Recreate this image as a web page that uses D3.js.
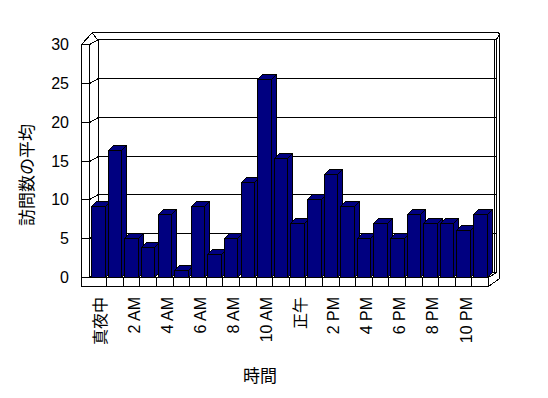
<!DOCTYPE html>
<html><head><meta charset="utf-8">
<script src="https://cdn.jsdelivr.net/npm/d3@7"></script>
<style>body{margin:0;background:#fff}svg{display:block}</style>
</head><body>
<script>
const categories = ["真夜中","1 AM","2 AM","3 AM","4 AM","5 AM","6 AM","7 AM","8 AM","9 AM","10 AM","11 AM",
  "正午","1 PM","2 PM","3 PM","4 PM","5 PM","6 PM","7 PM","8 PM","9 PM","10 PM","11 PM"];
const visits = [9.1,16.3,5,3.9,8.1,0.9,9.1,2.9,5,12.2,25.5,15.3,7,10.1,13.2,9.1,5,7,5,8.1,7,7,6,8.1];
const yTicks = [0,5,10,15,20,25,30];
const yTitle = "訪問数の平均";
const xTitle = "時間";

const W = 548, H = 398;
const DX = 8, DY = -5;       // depth of floor (front plane -> back wall)
const BD = 5;                // bar depth
const svg = d3.select("body").append("svg").attr("width", W).attr("height", H);
svg.append("rect").attr("width", W).attr("height", H).attr("fill", "#fff");

const x = d3.scaleBand().domain(categories).range([89.5, 488]).padding(0);
const yF = d3.scaleLinear().domain([0, 30]).range([277, 44]);   // front plane
const yB = v => yF(v) + DY;                                       // back wall
const xL = 89.5, xR = 488, wallL = 81, floorB = 286, outerR = 499;
const r = p => [Math.round(p[0]) + 0.5, Math.round(p[1]) + 0.5];
const line = (pts) => svg.append("path").attr("d", d3.line()(pts.map(r)))
  .attr("fill", "none").attr("stroke", "#000").attr("stroke-width", 1)
  .attr("shape-rendering", "crispEdges");
const poly = (pts, fill) => svg.append("path").attr("d", d3.line()(pts.map(r)) + "Z")
  .attr("fill", fill).attr("stroke", "#000").attr("stroke-width", 1)
  .attr("shape-rendering", "crispEdges");

// outer frame (wall/floor slabs)
poly([[wallL, floorB],[wallL, 44],[92, 32],[498, 32],[outerR, 34],[outerR, 278],[xR, floorB]], "#fff");
// back wall
poly([[xL+DX, yB(30)],[xR+DX, yB(30)],[xR+DX, yB(0)],[xL+DX, yB(0)]], "#fff");
line([[xR+DX, yB(30)],[outerR, 34]]);
line([[xL+DX-1, yB(30)],[92, 33]]);
// left wall front face
line([[wallL, 44],[xL-1, 44],[xL-1, 277]]);
line([[xL-1, 44],[xL+DX, yB(30)]]);
// floor
poly([[xL-1, 277],[xR, 277],[xR+DX, yB(0)],[xL+DX, yB(0)]], "#fff");
line([[wallL, 277],[xR, 277],[xR, floorB]]);
line([[xR, 277],[494, 273]]);
line([[494, 273],[494, yB(30)]]);
// floor ticks
categories.forEach((c, i) => { if (i > 0) line([[x(c), 277],[x(c), floorB]]); });

// gridlines and left-wall ticks
yTicks.forEach(v => {
  if (v > 0 && v < 30) line([[xL+DX, yB(v)],[xR+DX, yB(v)]]);
  line([[wallL, yF(v)],[xL-1, yF(v)],[xL+DX, yB(v)]]);
});

// bars
const bw = x.bandwidth() * 0.81, off = 1.7, navy = "#000080";
categories.forEach((c, i) => {
  const v = visits[i];
  const x0 = x(c) + off, x1 = x0 + bw, y0 = yF(v), yb = yF(0);
  poly([[x1, y0],[x1+BD, y0-BD],[x1+BD, yb-BD],[x1, yb]], navy);
  poly([[x0, y0],[x1, y0],[x1+BD, y0-BD],[x0+BD, y0-BD]], navy);
  poly([[x0, y0],[x1, y0],[x1, yb],[x0, yb]], navy);
});

// y tick labels
const yAxis = d3.axisLeft(yF).tickValues(yTicks).tickSize(0).tickPadding(0);
const ga = svg.append("g").attr("transform", "translate(69,0)").call(yAxis);
ga.select(".domain").remove();
ga.selectAll("text").attr("font-family", "'Liberation Sans', Arial, sans-serif")
  .attr("font-size", 16).attr("fill", "#000").attr("dy", "0.35em");

// x tick labels
categories.forEach((c, i) => {
  if (i % 2) return;
  svg.append("text").text(c)
    .attr("transform", `translate(${x(c) + x.bandwidth()/2 + 3},297) rotate(-90)`)
    .attr("text-anchor", "end").attr("dy", "0.35em")
    .attr("font-family", "'Liberation Sans', 'Noto Sans CJK JP', sans-serif")
    .attr("font-size", 16).attr("fill", "#000");
});

// titles
svg.append("text").text(yTitle)
  .attr("transform", "translate(27,175) rotate(-90)")
  .attr("text-anchor", "middle").attr("dy", "0.35em").attr("fill", "#000")
  .attr("font-family", "'Noto Sans CJK JP', sans-serif").attr("font-size", 17);
svg.append("text").text(xTitle)
  .attr("x", 260).attr("y", 376).attr("text-anchor", "middle").attr("dy", "0.35em").attr("fill", "#000")
  .attr("font-family", "'Noto Sans CJK JP', sans-serif").attr("font-size", 17);
</script>
</body></html>
